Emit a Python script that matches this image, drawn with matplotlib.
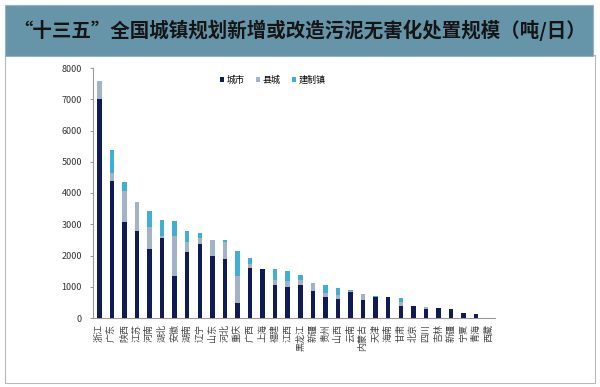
import matplotlib
matplotlib.use("Agg")
import matplotlib.pyplot as plt
from matplotlib.patches import Rectangle
import numpy as np

plt.rcParams['font.family'] = ['Noto Sans CJK SC', 'DejaVu Sans']

provinces = ["浙江", "广东", "陕西", "江苏", "河南", "湖北", "安徽", "湖南", "辽宁", "山东",
             "河北", "重庆", "广西", "上海", "福建", "江西", "黑龙江", "新疆", "贵州", "山西",
             "云南", "内蒙古", "天津", "海南", "甘肃", "北京", "四川", "吉林", "新疆", "宁夏",
             "青海", "西藏"]
city = [7000, 4400, 3060, 2800, 2200, 2560, 1350, 2120, 2380, 2000,
        1890, 480, 1600, 1570, 1060, 980, 1060, 860, 680, 620,
        820, 570, 660, 660, 400, 390, 280, 320, 300, 160,
        140, 0]
county = [600, 250, 1010, 900, 700, 70, 1280, 300, 180, 490,
          530, 870, 140, 0, 170, 190, 170, 260, 120, 130,
          30, 200, 0, 0, 100, 0, 80, 0, 0, 0,
          0, 0]
town = [0, 720, 270, 0, 510, 520, 460, 380, 160, 0,
        70, 800, 180, 0, 340, 320, 160, 0, 250, 210,
        60, 0, 30, 0, 140, 0, 0, 0, 0, 0,
        0, 0]
series_names = ["城市", "县城", "建制镇"]
yticks = [0, 1000, 2000, 3000, 4000, 5000, 6000, 7000, 8000]
title = "“十三五”全国城镇规划新增或改造污泥无害化处置规模（吨/日）"

c_city = "#0f1b55"
c_county = "#a3b3c7"
c_town = "#3fb0d4"

fig = plt.figure(figsize=(6.0, 3.87), dpi=100)
fig.patch.set_facecolor("white")

# outer panel border
fig.patches.append(Rectangle((5/600, 1-383/387), 590/600, 328/387, transform=fig.transFigure,
                             facecolor="white", edgecolor="#b8b8b8", lw=0.8, zorder=-2))
# title banner
fig.patches.append(Rectangle((5/600, 1-56/387), 588/600, 51/387, transform=fig.transFigure,
                             facecolor="#6695aa", edgecolor="#9ab0bc", lw=0.8, zorder=-1))
fig.text(0.5, 1-30/387, title, ha="center", va="center", fontsize=14,
         fontweight="bold", color="#151515")

ax = fig.add_axes([93/600, 1-318/387, (495-93)/600, 250/387])
ax.set_zorder(2)
ax.patch.set_alpha(0)
x = np.arange(len(provinces))
w = 0.36
city_a = np.array(city)
county_a = np.array(county)
town_a = np.array(town)
ax.bar(x, city_a, w, color=c_city, label=series_names[0], zorder=3)
ax.bar(x, county_a, w, bottom=city_a, color=c_county, label=series_names[1], zorder=3)
ax.bar(x, town_a, w, bottom=city_a + county_a, color=c_town, label=series_names[2], zorder=3)

ax.set_xlim(-0.5, len(provinces) - 0.5)
ax.set_ylim(0, 8000)
ax.set_yticks(yticks)
ax.set_yticklabels([str(v) for v in yticks], fontsize=6.5, color="#333333")
ax.set_xticks(x)
ax.set_xticklabels(provinces, rotation=90, fontsize=6.5, color="#444444")
ax.tick_params(axis="x", length=0, pad=4)
ax.tick_params(axis="y", length=2, width=0.6, color="#888888", pad=6)
for s in ["top", "right"]:
    ax.spines[s].set_visible(False)
ax.spines["left"].set_color("#999999")
ax.spines["bottom"].set_color("#999999")
ax.spines["left"].set_linewidth(0.8)
ax.spines["bottom"].set_linewidth(0.8)

leg = ax.legend(loc="upper left", bbox_to_anchor=((216-93)/402, 1-4/250), ncol=3, frameon=False,
                fontsize=6.5, handlelength=0.5, handleheight=0.5, handletextpad=0.3,
                columnspacing=1.2, borderaxespad=0)

fig.savefig("out.png", dpi=100)
